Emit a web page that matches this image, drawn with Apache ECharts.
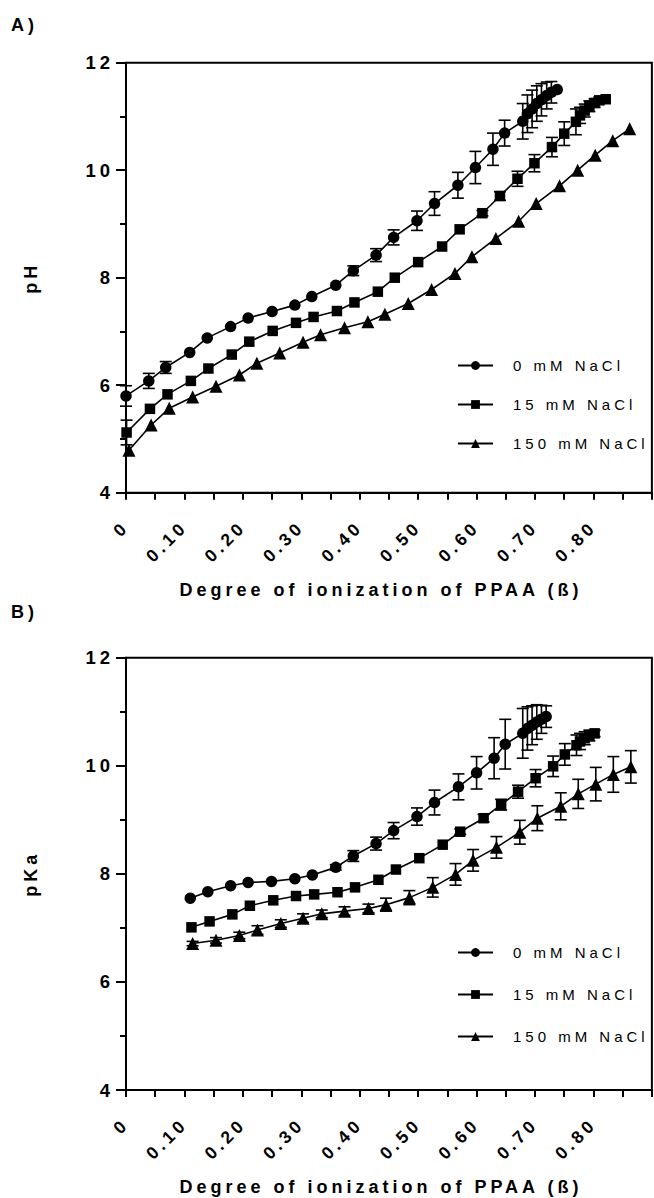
<!DOCTYPE html>
<html><head><meta charset="utf-8">
<script src="https://cdn.jsdelivr.net/npm/echarts@6/dist/echarts.min.js"></script>
<style>
html,body{margin:0;padding:0;background:#fff;}
#chart{width:654px;height:1198px;}
#chart text{letter-spacing:4px;}
</style></head><body><div id="chart"></div>
<script>
// ---------- Data ----------
const seriesNames = ['0 mM NaCl', '15 mM NaCl', '150 mM NaCl'];
const xTickValues = [0, 0.1, 0.2, 0.3, 0.4, 0.5, 0.6, 0.7, 0.8];
const yTickValues = [4, 6, 8, 10, 12];

// Panel A: pH vs beta
const betaA0 = [0.000, 0.039, 0.068, 0.109, 0.139, 0.179, 0.209, 0.250, 0.289, 0.318, 0.359, 0.389, 0.428, 0.458, 0.498, 0.528, 0.568, 0.598, 0.628, 0.648, 0.679, 0.687, 0.695, 0.703, 0.711, 0.720, 0.728, 0.738];
const pHA0   = [5.80, 6.08, 6.33, 6.61, 6.88, 7.09, 7.25, 7.37, 7.49, 7.65, 7.86, 8.13, 8.42, 8.75, 9.06, 9.38, 9.72, 10.05, 10.39, 10.69, 10.91, 11.05, 11.14, 11.24, 11.31, 11.39, 11.45, 11.50];
const errA0  = [0.19, 0.14, 0.11, 0, 0, 0, 0, 0, 0, 0, 0, 0.09, 0.12, 0.14, 0.18, 0.22, 0.24, 0.30, 0.30, 0.24, 0.33, 0.35, 0.35, 0.33, 0.30, 0.25, 0.20, 0];

const betaA15 = [0.001, 0.041, 0.071, 0.111, 0.141, 0.181, 0.211, 0.251, 0.291, 0.321, 0.361, 0.391, 0.431, 0.460, 0.500, 0.541, 0.571, 0.610, 0.640, 0.670, 0.699, 0.729, 0.750, 0.770, 0.777, 0.785, 0.793, 0.802, 0.810, 0.821];
const pHA15   = [5.12, 5.56, 5.83, 6.08, 6.31, 6.57, 6.81, 7.01, 7.16, 7.27, 7.38, 7.54, 7.74, 8.00, 8.29, 8.58, 8.90, 9.20, 9.52, 9.84, 10.13, 10.43, 10.68, 10.90, 11.02, 11.11, 11.19, 11.25, 11.30, 11.32];
const errA15  = [0.23, 0, 0, 0, 0, 0, 0, 0, 0, 0, 0, 0, 0, 0, 0, 0, 0, 0.05, 0.08, 0.14, 0.16, 0.18, 0.22, 0.24, 0.15, 0.12, 0.10, 0.08, 0.06, 0];

const betaA150 = [0.005, 0.043, 0.074, 0.114, 0.154, 0.194, 0.224, 0.263, 0.303, 0.333, 0.374, 0.414, 0.443, 0.483, 0.523, 0.563, 0.592, 0.633, 0.672, 0.702, 0.742, 0.773, 0.803, 0.833, 0.862];
const pHA150   = [4.79, 5.26, 5.57, 5.78, 5.98, 6.19, 6.41, 6.60, 6.80, 6.94, 7.07, 7.18, 7.32, 7.52, 7.78, 8.08, 8.39, 8.73, 9.05, 9.38, 9.71, 10.00, 10.28, 10.55, 10.77];

// Panel B: pKa vs beta
const betaB0 = [0.110, 0.140, 0.179, 0.209, 0.249, 0.289, 0.319, 0.359, 0.389, 0.428, 0.458, 0.498, 0.528, 0.569, 0.600, 0.630, 0.649, 0.679, 0.687, 0.695, 0.703, 0.711, 0.719];
const pKaB0  = [7.55, 7.67, 7.78, 7.84, 7.86, 7.91, 7.98, 8.12, 8.33, 8.56, 8.80, 9.06, 9.32, 9.61, 9.87, 10.14, 10.40, 10.60, 10.69, 10.75, 10.81, 10.86, 10.91];
const errB0  = [0, 0, 0, 0, 0, 0, 0, 0.05, 0.10, 0.12, 0.15, 0.16, 0.23, 0.24, 0.30, 0.38, 0.46, 0.46, 0.40, 0.36, 0.32, 0.26, 0.20];

const betaB15 = [0.112, 0.143, 0.182, 0.212, 0.252, 0.291, 0.322, 0.362, 0.392, 0.432, 0.462, 0.502, 0.542, 0.572, 0.612, 0.642, 0.671, 0.701, 0.731, 0.751, 0.771, 0.777, 0.785, 0.793, 0.802];
const pKaB15  = [7.01, 7.12, 7.25, 7.41, 7.51, 7.59, 7.62, 7.66, 7.75, 7.89, 8.08, 8.29, 8.54, 8.78, 9.03, 9.28, 9.52, 9.77, 9.99, 10.21, 10.38, 10.45, 10.51, 10.56, 10.60];
const errB15  = [0, 0, 0, 0, 0, 0, 0, 0, 0, 0, 0, 0, 0, 0.05, 0.07, 0.10, 0.12, 0.16, 0.19, 0.20, 0.19, 0.15, 0.12, 0.10, 0.06];

const betaB150 = [0.114, 0.154, 0.194, 0.225, 0.265, 0.303, 0.335, 0.374, 0.415, 0.445, 0.485, 0.525, 0.564, 0.594, 0.634, 0.674, 0.704, 0.744, 0.774, 0.804, 0.834, 0.864];
const pKaB150  = [6.71, 6.77, 6.86, 6.96, 7.08, 7.18, 7.26, 7.31, 7.36, 7.43, 7.56, 7.75, 7.99, 8.25, 8.49, 8.77, 9.03, 9.25, 9.48, 9.66, 9.84, 9.98];
const errB150  = [0.04, 0.05, 0.06, 0.08, 0.07, 0.08, 0.07, 0.08, 0.08, 0.12, 0.13, 0.18, 0.20, 0.20, 0.20, 0.22, 0.23, 0.25, 0.27, 0.31, 0.33, 0.30];

// ---------- Chart ----------
const FONT = '"Liberation Sans", Arial, Helvetica, sans-serif';
const chart = echarts.init(document.getElementById('chart'), null, {renderer: 'svg'});

const symbols = ['circle', 'rect', 'triangle'];
const symSizes = [11.5, 10.5, 13];

function lineSeries(k, xs, ys, gi) {
  return {
    name: seriesNames[k], type: 'line', xAxisIndex: gi, yAxisIndex: gi,
    data: xs.map((x, i) => [x, ys[i]]),
    symbol: symbols[k], symbolSize: symSizes[k], showAllSymbol: true,
    itemStyle: {color: '#000'}, lineStyle: {color: '#000', width: 1.6},
    z: 3, animation: false
  };
}
function errSeries(xs, ys, es, gi) {
  return {
    type: 'custom', xAxisIndex: gi, yAxisIndex: gi, silent: true, z: 2, animation: false,
    data: xs.map((x, i) => [x, ys[i], es[i]]).filter(d => d[2] > 0),
    encode: {x: 0, y: 1},
    renderItem: function (params, api) {
      const x = api.value(0), y = api.value(1), e = api.value(2);
      const t = api.coord([x, y + e]), b = api.coord([x, y - e]);
      const w = 6, st = {stroke: '#000', lineWidth: 1.6};
      return {type: 'group', children: [
        {type: 'line', shape: {x1: t[0], y1: t[1], x2: b[0], y2: b[1]}, style: st},
        {type: 'line', shape: {x1: t[0] - w, y1: t[1], x2: t[0] + w, y2: t[1]}, style: st},
        {type: 'line', shape: {x1: b[0] - w, y1: b[1], x2: b[0] + w, y2: b[1]}, style: st}
      ]};
    }
  };
}

function xAxisCfg(gi) {
  return {
    type: 'value', gridIndex: gi, min: 0, max: 0.9, interval: 0.1,
    name: 'Degree of ionization of PPAA (ß)', nameLocation: 'middle', nameGap: 88,
    nameTextStyle: {fontFamily: FONT, fontWeight: 'bold', fontSize: 18, color: '#000', padding: [0, 16, 0, 0]},
    axisLine: {show: true, onZero: false, lineStyle: {color: '#000', width: 2}},
    axisTick: {show: true, length: 7, lineStyle: {color: '#000', width: 2}},
    minorTick: {show: true, splitNumber: 2, length: 7, lineStyle: {color: '#000', width: 2}},
    splitLine: {show: false}, minorSplitLine: {show: false},
    axisLabel: {
      rotate: 45, margin: 31, fontFamily: FONT, fontWeight: 'bold', fontSize: 17.5, color: '#000',
      formatter: v => xTickValues.some(t => Math.abs(t - v) < 1e-6) ? (Math.abs(v) < 1e-9 ? '0' : v.toFixed(2)) : ''
    }
  };
}
function yAxisCfg(gi, name) {
  return {
    type: 'value', gridIndex: gi, min: 4, max: 12, interval: 2,
    name: name, nameLocation: 'middle', nameGap: 86,
    nameTextStyle: {fontFamily: FONT, fontWeight: 'bold', fontSize: 18, color: '#000'},
    axisLine: {show: true, onZero: false, lineStyle: {color: '#000', width: 2}},
    axisTick: {show: true, length: 10, lineStyle: {color: '#000', width: 2}},
    minorTick: {show: true, splitNumber: 2, length: 6, lineStyle: {color: '#000', width: 2}},
    splitLine: {show: false}, minorSplitLine: {show: false},
    axisLabel: {
      margin: 12, fontFamily: FONT, fontWeight: 'bold', fontSize: 18.5, color: '#000',
      formatter: v => yTickValues.includes(v) ? String(v) : ''
    }
  };
}
function legendCfg(top, gap) {
  return {
    data: seriesNames, orient: 'vertical', left: 457, top: top, itemGap: gap, padding: 0,
    itemWidth: 35, itemHeight: 11, selectedMode: false,
    textStyle: {fontFamily: FONT, fontSize: 15, color: '#000', padding: [0, 0, 0, 15]}
  };
}

const option = {
  animation: false,
  backgroundColor: '#fff',
  grid: [
    {left: 126, top: 62.7, width: 548, height: 430, show: true, borderColor: '#000', borderWidth: 2, backgroundColor: 'transparent'},
    {left: 126, top: 657.7, width: 548, height: 432.3, show: true, borderColor: '#000', borderWidth: 2, backgroundColor: 'transparent'}
  ],
  xAxis: [xAxisCfg(0), xAxisCfg(1)],
  yAxis: [yAxisCfg(0, 'pH'), yAxisCfg(1, 'pKa')],
  legend: [legendCfg(358, 24), legendCfg(945, 27)],
  graphic: [
    {type: 'text', left: 11, top: 16, style: {text: 'A)', font: 'bold 18px ' + FONT, fill: '#000'}},
    {type: 'text', left: 11, top: 603, style: {text: 'B)', font: 'bold 18px ' + FONT, fill: '#000'}}
  ],
  series: [
    errSeries(betaA0, pHA0, errA0, 0),
    errSeries(betaA15, pHA15, errA15, 0),
    lineSeries(0, betaA0, pHA0, 0),
    lineSeries(1, betaA15, pHA15, 0),
    lineSeries(2, betaA150, pHA150, 0),
    errSeries(betaB0, pKaB0, errB0, 1),
    errSeries(betaB15, pKaB15, errB15, 1),
    errSeries(betaB150, pKaB150, errB150, 1),
    lineSeries(0, betaB0, pKaB0, 1),
    lineSeries(1, betaB15, pKaB15, 1),
    lineSeries(2, betaB150, pKaB150, 1)
  ]
};
chart.setOption(option);
</script></body></html>
